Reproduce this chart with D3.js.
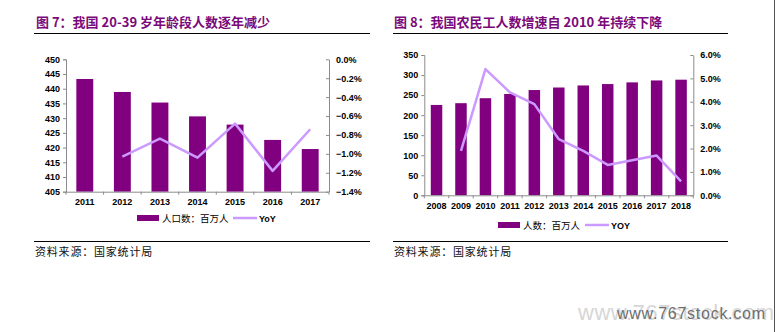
<!DOCTYPE html>
<html><head><meta charset="utf-8">
<script src="https://cdn.jsdelivr.net/npm/d3@7/dist/d3.min.js"></script>
<style>
html,body{margin:0;padding:0;background:#fff;}
svg{display:block;}
text{font-family:"Liberation Sans",Arial,sans-serif;}
.cjk{font-family:"Noto Sans CJK SC","Noto Sans",sans-serif;}
</style></head><body>
<svg id="c" width="779" height="332"></svg>
<script>
// ---- Chart 1 data ----
const years1 = ["2011","2012","2013","2014","2015","2016","2017"];
const pop1 = [443.3, 438.9, 435.3, 430.6, 427.8, 422.6, 419.5];
const yoy1 = [null, -1.03, -0.84, -1.04, -0.68, -1.18, -0.74];
const leftTicks1 = [405,410,415,420,425,430,435,440,445,450];
const rightTicks1 = [0,-0.2,-0.4,-0.6,-0.8,-1.0,-1.2,-1.4];
const title1 = "图 7：我国 20-39 岁年龄段人数逐年减少";
const legend1 = ["人口数：百万人", "YoY"];

// ---- Chart 2 data ----
const years2 = ["2008","2009","2010","2011","2012","2013","2014","2015","2016","2017","2018"];
const pop2 = [225.4, 229.8, 242.2, 252.8, 262.6, 268.9, 274.0, 277.5, 281.7, 286.5, 288.4];
const yoy2 = [null, 1.9, 5.4, 4.4, 3.9, 2.4, 1.9, 1.3, 1.5, 1.7, 0.6];
const leftTicks2 = [0,50,100,150,200,250,300,350];
const rightTicks2 = [0,1,2,3,4,5,6];
const title2 = "图 8：我国农民工人数增速自 2010 年持续下降";
const legend2 = ["人数：百万人", "YOY"];

const source = "资料来源：国家统计局";
const barColor = "#800080", lineColor = "#CC99FF", axisColor = "#8c8c8c", titleColor = "#7a0a7a";

const svg = d3.select("#c");

function drawChart(cfg){
  const g = svg.append("g");
  // title
  g.append("text").attr("class","cjk").attr("x",cfg.titleX).attr("y",27)
    .attr("font-size",13).attr("font-weight","bold").attr("fill",titleColor).text(cfg.title);
  g.append("line").attr("x1",cfg.ruleX1).attr("x2",cfg.ruleX2).attr("y1",33.5).attr("y2",33.5)
    .attr("stroke","#000").attr("stroke-width",1);

  const x = d3.scaleBand().domain(cfg.years).range([cfg.x0,cfg.x1]).paddingInner(cfg.pad).paddingOuter(cfg.pad/2);
  const yL = d3.scaleLinear().domain(cfg.lDomain).range([cfg.yBot,cfg.yTop]);
  const yR = d3.scaleLinear().domain(cfg.rDomain).range([cfg.yBot,cfg.yTop]);

  // bars
  g.append("g").selectAll("rect").data(cfg.pop).join("rect")
    .attr("x",(d,i)=>x(cfg.years[i])).attr("width",x.bandwidth())
    .attr("y",d=>yL(d)).attr("height",d=>cfg.yBot-yL(d)).attr("fill",barColor);

  // left axis
  const la = g.append("g").attr("transform",`translate(${cfg.x0},0)`)
    .call(d3.axisLeft(yL).tickValues(cfg.lTicks).tickSize(3).tickPadding(3).tickFormat(d3.format("d")));
  // right axis
  const ra = g.append("g").attr("transform",`translate(${cfg.x1},0)`)
    .call(d3.axisRight(yR).tickValues(cfg.rTicks).tickSize(0).tickPadding(7).tickFormat(d=>d3.format(".1f")(d)+"%"));
  ra.selectAll(".tick line").attr("x2",-3);
  // bottom axis
  const ba = g.append("g").attr("transform",`translate(0,${cfg.yBot})`)
    .call(d3.axisBottom(x).tickSize(0).tickPadding(cfg.xPad));
  // boundary ticks
  const step = x.step();
  const bounds = d3.range(cfg.years.length+1).map(i=>cfg.x0 + i*step);
  g.append("g").selectAll("line").data(bounds).join("line")
    .attr("x1",d=>d).attr("x2",d=>d).attr("y1",cfg.yBot).attr("y2",cfg.yBot+3)
    .attr("stroke",axisColor);

  [la,ra,ba].forEach(a=>{
    a.select(".domain").attr("stroke",axisColor);
    a.selectAll(".tick line").attr("stroke",axisColor);
    a.selectAll("text").attr("font-size",9).attr("fill","#000").attr("font-weight","bold")
      .attr("font-family","'Liberation Sans',Arial,sans-serif");
  });
  ba.select(".domain").attr("d",`M${cfg.x0},0.5H${cfg.x1}`);

  // line
  const pts = cfg.yoy.map((v,i)=>[x(cfg.years[i])+x.bandwidth()/2, v]).filter(p=>p[1]!==null);
  g.append("path").datum(pts)
    .attr("d",d3.line().x(p=>p[0]).y(p=>yR(p[1])))
    .attr("fill","none").attr("stroke",lineColor).attr("stroke-width",2.5).attr("stroke-linejoin","round");

  // legend
  const ly = cfg.legY;
  g.append("rect").attr("x",cfg.legX).attr("y",ly-3).attr("width",22).attr("height",6).attr("fill",barColor);
  g.append("text").attr("class","cjk").attr("x",cfg.legX+25).attr("y",ly+3.5).attr("font-size",9.5).text(cfg.legend[0]);
  g.append("line").attr("x1",cfg.legX2).attr("x2",cfg.legX2+24).attr("y1",ly).attr("y2",ly)
    .attr("stroke",lineColor).attr("stroke-width",2.5);
  g.append("text").attr("x",cfg.legX2+26).attr("y",ly+3.5).attr("font-size",9).attr("font-weight","bold").text(cfg.legend[1]);

  // source
  g.append("line").attr("x1",cfg.ruleX1).attr("x2",cfg.ruleX2).attr("y1",241.5).attr("y2",241.5)
    .attr("stroke","#000").attr("stroke-width",1);
  g.append("text").attr("class","cjk").attr("x",cfg.ruleX1+1).attr("y",256).attr("font-size",11)
    .attr("letter-spacing",0.8).attr("fill","#111").text(source);
}

drawChart({title:title1, titleX:36, ruleX1:34, ruleX2:370, years:years1, pop:pop1, yoy:yoy1,
  x0:66, x1:329, pad:0.55, yTop:59.3, yBot:191.7, lDomain:[405,450], rDomain:[-1.4,0],
  lTicks:leftTicks1, rTicks:rightTicks1, xPad:7, legY:218, legX:137, legX2:233, legend:legend1});

drawChart({title:title2, titleX:394, ruleX1:393, ruleX2:728, years:years2, pop:pop2, yoy:yoy2,
  x0:424.3, x1:693.3, pad:0.53, yTop:55, yBot:195.3, lDomain:[0,350], rDomain:[0,6],
  lTicks:leftTicks2, rTicks:rightTicks2, xPad:7, legY:225, legX:498, legX2:585, legend:legend2});

// right border
svg.append("line").attr("x1",774.5).attr("x2",774.5).attr("y1",0).attr("y2",332).attr("stroke","#555").attr("stroke-width",1);

// watermark
svg.append("text").attr("x",578).attr("y",320).attr("font-size",22).attr("fill","#d6d6d6")
  .attr("font-family","'DejaVu Sans',sans-serif").attr("textLength",196).text("www.767stock.com");
svg.append("text").attr("x",617).attr("y",319).attr("font-size",16).attr("fill","#6e6e6e")
  .attr("font-family","'DejaVu Sans',sans-serif").attr("textLength",148).text("www.767stock.com");
</script></body></html>
